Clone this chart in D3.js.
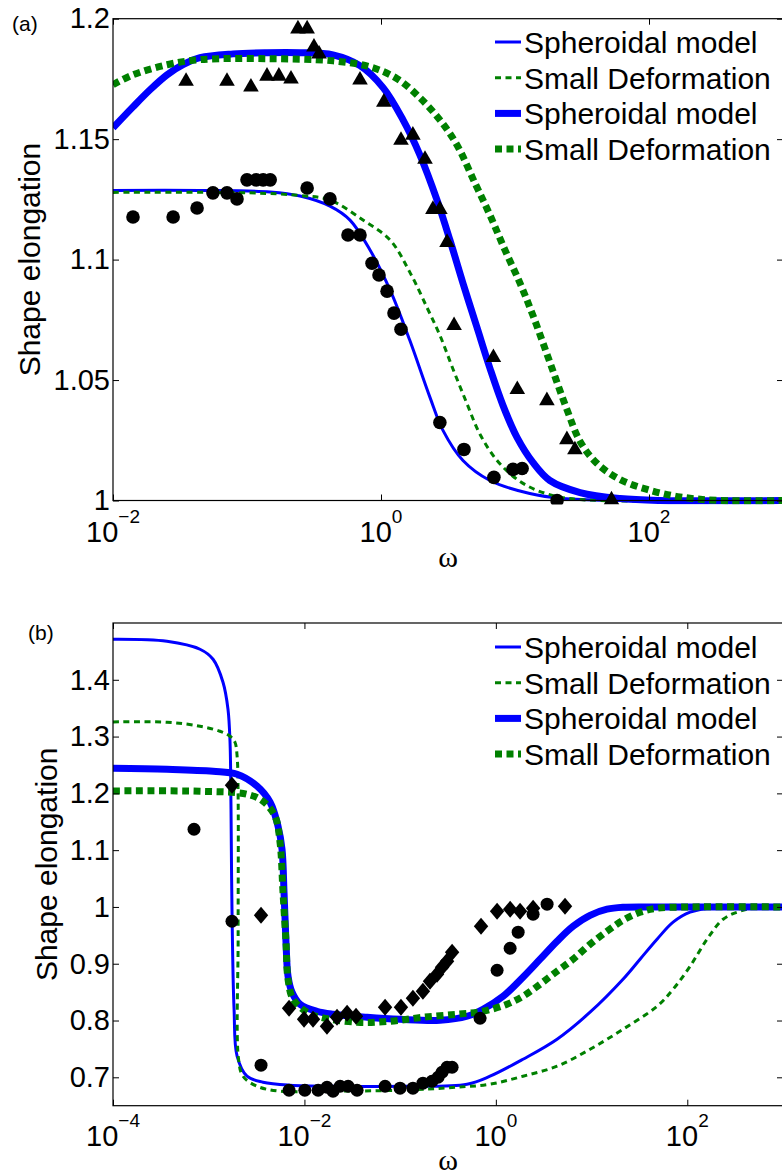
<!DOCTYPE html>
<html>
<head>
<meta charset="utf-8">
<script src="https://cdn.jsdelivr.net/npm/d3@7"></script>
<style>
  body { margin: 0; background: #fff; }
  svg { display: block; font-family: "Liberation Sans", Arial, Helvetica, sans-serif; }
</style>
</head>
<body>
<svg id="fig" width="782" height="1175"></svg>
<script>
// ---- data: [omega, shape elongation] ----

// panel (a)
const spheroidThinA = [[0.01,1.1287],[0.0446,1.1287],[0.149,1.1281],[0.249,1.1264],[0.416,1.1222],[0.587,1.1164],[0.828,1.104],[1.17,1.0873],[1.64,1.0665],[2.32,1.0428],[2.9,1.0291],[4.09,1.0166],[6.5,1.0083],[12.9,1.0029],[22.8,1.0008],[60.8,1.0],[1000,1.0]];
const smallDefThinA = [[0.01,1.1279],[0.105,1.1277],[0.249,1.1266],[0.416,1.1247],[0.734,1.1164],[1.17,1.1081],[1.64,1.0948],[2.2,1.0802],[2.75,1.0686],[3.45,1.0545],[4.38,1.0402],[5.48,1.0275],[7.35,1.0166],[10.4,1.0087],[14.6,1.0042],[22.8,1.0012],[43.1,1.0],[1000,1.0]];
const spheroidThickA = [[0.01,1.1547],[0.0141,1.1634],[0.0189,1.1705],[0.0253,1.1767],[0.0333,1.1809],[0.0446,1.1838],[0.0787,1.1854],[0.141,1.1859],[0.249,1.1859],[0.438,1.185],[0.697,1.1805],[1.04,1.1713],[1.46,1.158],[1.95,1.1435],[2.62,1.1247],[3.27,1.1081],[4.09,1.0902],[5.2,1.0719],[6.5,1.0549],[8.13,1.0395],[10.35,1.0262],[13.6,1.0158],[18.2,1.0083],[30.6,1.0033],[60.8,1.0008],[121,1.0],[1000,1.0]];
const smallDefThickA = [[0.01,1.1726],[0.0141,1.1767],[0.0253,1.1809],[0.0446,1.183],[0.141,1.1834],[0.438,1.1825],[0.828,1.18],[1.32,1.1751],[1.95,1.1672],[2.75,1.158],[3.69,1.1476],[5.02,1.1318],[6.5,1.1185],[8.41,1.104],[10.9,1.0902],[13.6,1.0769],[18.2,1.0574],[24.4,1.0378],[30.6,1.0245],[40.9,1.0154],[60.8,1.0087],[96.7,1.0046],[170,1.0015],[339,1.0],[1000,1.0]];
const circlesA = [[0.0141,1.1177],[0.0281,1.1177],[0.0424,1.1214],[0.0557,1.1277],[0.0709,1.1277],[0.0842,1.1252],[0.1,1.1331],[0.117,1.1331],[0.132,1.1331],[0.149,1.1331],[0.281,1.1297],[0.416,1.1252],[0.567,1.1102],[0.697,1.1102],[0.857,1.0985],[0.966,1.0936],[1.11,1.0869],[1.25,1.0778],[1.41,1.0711],[2.75,1.0324],[4.16,1.0212],[6.96,1.0096],[9.66,1.0129],[11.3,1.0133],[20.6,1.0]];
const trianglesA = [[0.0351,1.175],[0.0709,1.175],[0.107,1.1726],[0.141,1.1771],[0.173,1.1771],[0.213,1.1759],[0.24,1.1967],[0.281,1.1967],[0.316,1.1892],[0.345,1.1863],[0.697,1.1755],[1.05,1.1663],[1.41,1.1505],[1.73,1.1526],[2.13,1.1426],[2.44,1.1218],[2.75,1.1218],[3.11,1.1081],[3.51,1.0736],[6.9,1.0603],[10.4,1.047],[17.3,1.0424],[24.4,1.0262],[28.0,1.022],[52.5,1.0012]];

// panel (b)
const spheroidThinB = [[1e-4,1.4714],[3.66e-4,1.4679],[8.11e-4,1.4538],[1.11e-3,1.4362],[1.41e-3,1.3957],[1.59e-3,1.3482],[1.67e-3,1.29],[1.71e-3,1.1721],[1.75e-3,0.996],[1.84e-3,0.8199],[1.98e-3,0.7371],[2.51e-3,0.7019],[3.69e-3,0.6914],[7.07e-3,0.6861],[0.0236,0.6843],[0.0998,0.6843],[0.5,0.6879],[0.869,0.7019],[1.92,0.7318],[4.36,0.7671],[9.64,0.8146],[21.3,0.8727],[32.1,0.908],[48.3,0.9432],[71.1,0.9732],[107,0.9908],[205,0.9995],[536,1.0],[1000,1.0]];
const smallDefThinB = [[1e-4,1.3258],[3.66e-4,1.3253],[8.11e-4,1.3182],[1.31e-3,1.3094],[1.67e-3,1.3006],[1.88e-3,1.29],[1.98e-3,1.2654],[2.03e-3,1.1897],[2.03e-3,0.95],[2.05e-3,0.7318],[2.28e-3,0.7019],[3.2e-3,0.6843],[5.56e-3,0.6755],[0.0135,0.6755],[0.0998,0.6773],[0.394,0.6826],[0.869,0.6879],[1.92,0.7019],[4.36,0.7195],[9.64,0.7494],[21.3,0.7846],[48.3,0.8251],[71.1,0.8551],[107,0.8956],[161,0.9432],[237,0.9784],[356,0.9925],[620,1.0],[1000,1.0]];
const spheroidThickB = [[1e-4,1.2442],[3.66e-4,1.2425],[1.11e-3,1.239],[1.98e-3,1.2337],[3.2e-3,1.2126],[4.38e-3,1.1844],[5.3e-3,1.1421],[5.83e-3,1.1016],[6.12e-3,1.026],[6.42e-3,0.9378],[6.74e-3,0.878],[7.42e-3,0.8498],[8.99e-3,0.8287],[0.0135,0.8163],[0.0199,0.8111],[0.0451,0.8058],[0.0998,0.8022],[0.261,0.8005],[0.5,0.8075],[0.734,0.8198],[1.19,0.8427],[1.92,0.8763],[2.9,0.908],[4.36,0.9397],[6.41,0.966],[9.64,0.9853],[14.5,0.996],[21.3,0.9995],[48.3,1.0],[1000,1.0]];
const smallDefThickB = [[1e-4,1.2043],[8.11e-4,1.2037],[2.51e-3,1.1985],[3.69e-3,1.1861],[4.93e-3,1.1597],[5.56e-3,1.1139],[5.97e-3,1.026],[6.42e-3,0.9378],[6.74e-3,0.8727],[7.61e-3,0.8375],[0.0106,0.8146],[0.0146,0.8058],[0.0355,0.797],[0.0783,0.7987],[0.173,0.8058],[0.394,0.8111],[0.734,0.8163],[1.31,0.8287],[1.92,0.8427],[2.9,0.8639],[4.36,0.8868],[6.41,0.9079],[9.64,0.9343],[14.5,0.9572],[21.3,0.9766],[32.1,0.9907],[48.3,0.9977],[107,1.0],[1000,1.0]];
const circlesB = [[7.02e-4,1.1368],[1.75e-3,0.9748],[3.52e-3,0.7213],[6.91e-3,0.6772],[0.0101,0.6772],[0.0139,0.6772],[0.0172,0.6825],[0.0199,0.6755],[0.0236,0.6843],[0.0286,0.6843],[0.0355,0.6772],[0.0696,0.6843],[0.0998,0.6808],[0.136,0.6808],[0.173,0.6896],[0.215,0.6931],[0.249,0.7001],[0.274,0.7089],[0.309,0.7177],[0.349,0.7177],[0.684,0.804],[1.03,0.8885],[1.41,0.9273],[1.71,0.9555],[2.45,0.9871],[3.43,1.0048]];
const diamondsB = [[1.75e-3,1.2143],[3.52e-3,0.9854],[6.91e-3,0.8216],[9.91e-3,0.8022],[0.0123,0.8022],[0.0172,0.7899],[0.0219,0.8058],[0.0279,0.8128],[0.0346,0.8075],[0.0696,0.8234],[0.102,0.8234],[0.136,0.8392],[0.173,0.8516],[0.205,0.8692],[0.243,0.8815],[0.274,0.8938],[0.309,0.9044],[0.349,0.9203],[0.7,0.966],[1.03,0.9925],[1.41,0.996],[1.79,0.9925],[2.45,0.9977],[5.28,1.0012]];

// ticks
const xTicksA = [1e-2, 1e0, 1e2];
const xTicksB = [1e-4, 1e-2, 1e0, 1e2];
const yTicksA = [1, 1.05, 1.1, 1.15, 1.2];
const yTicksB = [0.7, 0.8, 0.9, 1, 1.1, 1.2, 1.3, 1.4];

const legendLabels = ["Spheroidal model", "Small Deformation", "Spheroidal model", "Small Deformation"];

// line styles (same order as the legend)
const BLUE = "#0000ff", GREEN = "#008000";
const styles = [
  { color: BLUE,  width: 3, dash: null },
  { color: GREEN, width: 3, dash: "6,4.5" },
  { color: BLUE,  width: 7, dash: null },
  { color: GREEN, width: 7, dash: "7,4.5" }
];

const svg = d3.select("#fig");
const LEFT = 113, RIGHT = 783;

const triPath = "M0,-6.8L7.8,6.8L-7.8,6.8Z";
const diaPath = "M0,-8.5L7.2,0L0,8.5L-7.2,0Z";

function drawPanel(p) {
  const x = d3.scaleLog().domain(p.xDomain).range([LEFT, RIGHT]);
  const y = d3.scaleLinear().domain(p.yDomain).range([p.bottom, p.top]);
  const g = svg.append("g");

  g.append("clipPath").attr("id", p.id + "-clip")
    .append("rect")
    .attr("x", LEFT).attr("y", p.top - 4)
    .attr("width", RIGHT - LEFT).attr("height", p.bottom - p.top + 8);

  // curves
  const line = d3.line()
    .x(d => x(d[0]))
    .y(d => y(d[1]))
    .curve(d3.curveCatmullRom.alpha(0.5));

  const plot = g.append("g").attr("clip-path", `url(#${p.id}-clip)`);
  p.curves.forEach((c, i) => {
    plot.append("path")
      .attr("d", line(c))
      .attr("fill", "none")
      .attr("stroke", styles[i].color)
      .attr("stroke-width", styles[i].width)
      .attr("stroke-dasharray", styles[i].dash)
      .attr("stroke-linejoin", "round");
  });

  // markers
  p.markers.forEach(m => {
    plot.selectAll(null)
      .data(m.data)
      .enter().append(m.shape === "circle" ? "circle" : "path")
      .each(function (d) {
        const el = d3.select(this);
        if (m.shape === "circle") {
          el.attr("cx", x(d[0])).attr("cy", y(d[1])).attr("r", m.r);
        } else {
          el.attr("d", m.shape === "triangle" ? triPath : diaPath)
            .attr("transform", `translate(${x(d[0])},${y(d[1])})`);
        }
      })
      .attr("fill", "#000");
  });

  // axes (ticks point inward, box around the plot)
  const axisStyle = sel => {
    sel.attr("font-size", null).attr("font-family", null);
    sel.select(".domain").remove();
    sel.selectAll(".tick line").attr("stroke", "#000");
  };
  g.append("g").attr("transform", `translate(0,${p.bottom})`)
    .call(d3.axisBottom(x).tickValues(p.xTicks).tickSize(-6).tickFormat(""))
    .call(axisStyle);
  g.append("g").attr("transform", `translate(0,${p.top})`)
    .call(d3.axisTop(x).tickValues(p.xTicks).tickSize(-6).tickFormat(""))
    .call(axisStyle);
  g.append("g").attr("transform", `translate(${LEFT},0)`)
    .call(d3.axisLeft(y).tickValues(p.yTicks).tickSize(-6).tickPadding(3).tickFormat(d => String(d)))
    .call(axisStyle)
    .selectAll("text").attr("font-size", 29).attr("fill", "#000");
  g.append("g").attr("transform", `translate(${RIGHT},0)`)
    .call(d3.axisRight(y).tickValues(p.yTicks).tickSize(-6).tickFormat(""))
    .call(axisStyle);

  g.append("rect")
    .attr("x", LEFT).attr("y", p.top)
    .attr("width", RIGHT - LEFT).attr("height", p.bottom - p.top)
    .attr("fill", "none").attr("stroke", "#000").attr("stroke-width", 1.2);

  // 10^n labels
  const xl = g.selectAll(".xlab").data(p.xTicks).enter().append("text")
    .attr("class", "xlab")
    .attr("x", d => x(d))
    .attr("y", p.bottom + p.xLabelGap)
    .attr("text-anchor", "middle")
    .attr("font-size", 29);
  xl.append("tspan").text("10");
  xl.append("tspan")
    .attr("dy", -19).attr("font-size", 19)
    .text(d => String(Math.round(Math.log10(d))).replace("-", "\u2212"));

  g.append("text")
    .attr("x", (LEFT + RIGHT) / 2).attr("y", p.bottom + p.omegaGap)
    .attr("text-anchor", "middle")
    .attr("font-family", "'Liberation Serif', 'DejaVu Serif', serif")
    .attr("font-size", 30)
    .text("\u03c9");

  g.append("text")
    .attr("transform", `translate(${p.yLabelX},${(p.top + p.bottom) / 2}) rotate(-90)`)
    .attr("text-anchor", "middle")
    .attr("font-size", 30)
    .text("Shape elongation");

  g.append("text")
    .attr("x", p.tagX).attr("y", p.tagY)
    .attr("font-size", 21)
    .text(p.tag);

  // legend (no box)
  const leg = g.append("g");
  legendLabels.forEach((lab, i) => {
    const ly = p.legendY + i * 35.7;
    leg.append("line")
      .attr("x1", 495).attr("x2", 521).attr("y1", ly).attr("y2", ly)
      .attr("stroke", styles[i].color)
      .attr("stroke-width", styles[i].width)
      .attr("stroke-dasharray", styles[i].dash);
    leg.append("text")
      .attr("x", 524).attr("y", ly + 11)
      .attr("font-size", 30)
      .text(lab);
  });
}

drawPanel({
  id: "a", tag: "(a)", tagX: 12, tagY: 31,
  xDomain: [1e-2, 1e3], yDomain: [1, 1.2],
  top: 18.7, bottom: 500.5,
  xTicks: xTicksA, yTicks: yTicksA,
  xLabelGap: 41, omegaGap: 66, yLabelX: 40, legendY: 42,
  curves: [spheroidThinA, smallDefThinA, spheroidThickA, smallDefThickA],
  markers: [
    { data: circlesA, shape: "circle", r: 6.8 },
    { data: trianglesA, shape: "triangle" }
  ]
});

drawPanel({
  id: "b", tag: "(b)", tagX: 28, tagY: 640,
  xDomain: [1e-4, 1e3], yDomain: [0.65, 1.5],
  top: 623, bottom: 1105.7,
  xTicks: xTicksB, yTicks: yTicksB,
  xLabelGap: 40, omegaGap: 64, yLabelX: 57, legendY: 647,
  curves: [spheroidThinB, smallDefThinB, spheroidThickB, smallDefThickB],
  markers: [
    { data: diamondsB, shape: "diamond" },
    { data: circlesB, shape: "circle", r: 6.5 }
  ]
});
</script>
</body>
</html>
